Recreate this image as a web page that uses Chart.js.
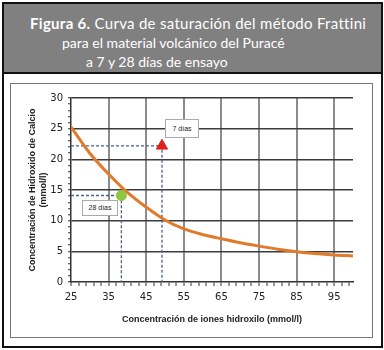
<!DOCTYPE html>
<html>
<head>
<meta charset="utf-8">
<script src="https://cdn.jsdelivr.net/npm/chart.js@4"></script>
<style>
  body { margin:0; background:#fff; width:384px; height:350px; position:relative; overflow:hidden; font-family:'Lato','Open Sans',sans-serif; }
  #frame { position:absolute; left:2px; top:2px; width:377px; height:342px; border:2.5px solid #111; }
  #title { position:absolute; left:0; top:0; width:377px; height:68px; background:#808080; border-bottom:2.5px solid #111; color:#fff; }
  .tl { position:absolute; white-space:nowrap; font-size:14px; line-height:20px; }
  #inner { position:absolute; left:10px; top:83px; width:361px; height:253px; border:1px solid #777; background:#fff; }
  canvas { position:absolute; left:0; top:0; }
  .lbl { position:absolute; background:#fff; border:1px solid #aaa; font-family:'Liberation Sans',sans-serif; font-size:7px; color:#222; text-align:center; }
</style>
</head>
<body>
<div id="frame">
  <div id="title">
    <div class="tl" style="left:26px;top:9px;font-size:15px;letter-spacing:0.3px"><b>Figura 6.</b> Curva de saturación del método Frattini</div>
    <div class="tl" style="left:58px;top:29px">para el material volcánico del Puracé</div>
    <div class="tl" style="left:82px;top:48px">a 7 y 28 días de ensayo</div>
  </div>
</div>
<div id="inner">
  <canvas id="c" width="361" height="253"></canvas>
  <div class="lbl" style="left:154px;top:35px;width:32px;height:17px;line-height:17px">7 días</div>
  <div class="lbl" style="left:71px;top:116px;width:34px;height:14px;line-height:14px">28 días</div>
</div>
<script>
// curva de saturación
const ohVals  = [25, 30, 35, 40, 45, 50, 55, 60, 65, 70, 75, 80, 85, 90, 95, 100];
const caVals  = [25.3, 21.0, 17.6, 14.6, 12.2, 10.1, 8.65, 7.75, 7.05, 6.4, 5.85, 5.35, 4.95, 4.65, 4.42, 4.25];
// ensayos
const p7  = { x: 49.2, y: 22.2 };
const p28 = { x: 38.4, y: 14.1 };
// ejes
const xMajor = [25, 35, 45, 55, 65, 75, 85, 95];
const yMajor = [0, 5, 10, 15, 20, 25, 30];
const xTicks = []; for (let v = 25; v < 100; v += 2) xTicks.push(v);
const yTicks = []; for (let v = 0; v <= 30; v += 1) yTicks.push(v);

const curve = ohVals.map((x, i) => ({ x, y: caVals[i] }));
const guide = p => [{ x: 25, y: p.y }, { x: p.x, y: p.y }, { x: p.x, y: 0 }];
const dash = { borderColor:'#4b5f8f', borderWidth:1.3, borderDash:[3,2], pointRadius:0, fill:false, tension:0 };

new Chart(document.getElementById('c'), {
  type: 'line',
  data: {
    datasets: [
      { data: curve, borderColor:'#e27a2c', borderWidth:3, pointRadius:0, cubicInterpolationMode:'monotone', order:2 },
      { data: guide(p7),  ...dash, order:3 },
      { data: guide(p28), ...dash, order:3 },
      { data: [p7],  showLine:false, pointStyle:'triangle', pointRadius:6.5, backgroundColor:'#e0201c', borderColor:'#e0201c', order:1 },
      { data: [p28], showLine:false, pointStyle:'circle', pointRadius:5, backgroundColor:'#8dc63f', borderColor:'#8dc63f', order:1 },
    ]
  },
  options: {
    responsive: false,
    animation: false,
    layout: { padding: { top:14, right:19, left:0, bottom:0 } },
    plugins: { legend:{ display:false }, tooltip:{ enabled:false } },
    scales: {
      x: {
        type:'linear', min:25, max:100,
        afterBuildTicks: s => { s.ticks = xTicks.map(v => ({ value:v })); },
        afterFit: s => { s.height = 55; },
        border: { color:'#333', width:1.5 },
        grid: {
          color: c => c.tick && xMajor.includes(c.tick.value) && c.tick.value !== 25 ? '#8c8c8c' : 'rgba(0,0,0,0)',
          lineWidth: 2, tickLength:4, tickColor:'#333', tickWidth:1
        },
        ticks: {
          autoSkip:false, maxRotation:0, padding:5, color:'#222',
          font:{ family:'DejaVu Sans', size:10 },
          callback: v => xMajor.includes(v) ? String(v) : ''
        },
        title: {
          display:true, text:'Concentración de iones hidroxilo (mmol/l)', color:'#222',
          font:{ family:'Liberation Sans', size:9, weight:'bold' }, padding:{ top:4, bottom:12 }
        }
      },
      y: {
        type:'linear', min:0, max:30,
        afterBuildTicks: s => { s.ticks = yTicks.map(v => ({ value:v })); },
        afterFit: s => { s.width = 60; },
        border: { color:'#333', width:1.5 },
        grid: {
          color: c => c.tick && yMajor.includes(c.tick.value) && c.tick.value !== 0 ? '#3c3c3c' : 'rgba(0,0,0,0)',
          lineWidth: 1.5, tickLength:3, tickColor:'#333', tickWidth:1
        },
        ticks: {
          autoSkip:false, padding:5, color:'#222',
          font:{ family:'DejaVu Sans', size:10 },
          callback: v => yMajor.includes(v) ? String(v) : ''
        },
        title: {
          display:true, text:['Concentración de Hidroxido de Calcio', '(mmol/l)'], color:'#222',
          font:{ family:'Liberation Sans', size:9, weight:'bold' }, padding:{ top:16, bottom:0 }
        }
      }
    }
  }
});
</script>
</body>
</html>
